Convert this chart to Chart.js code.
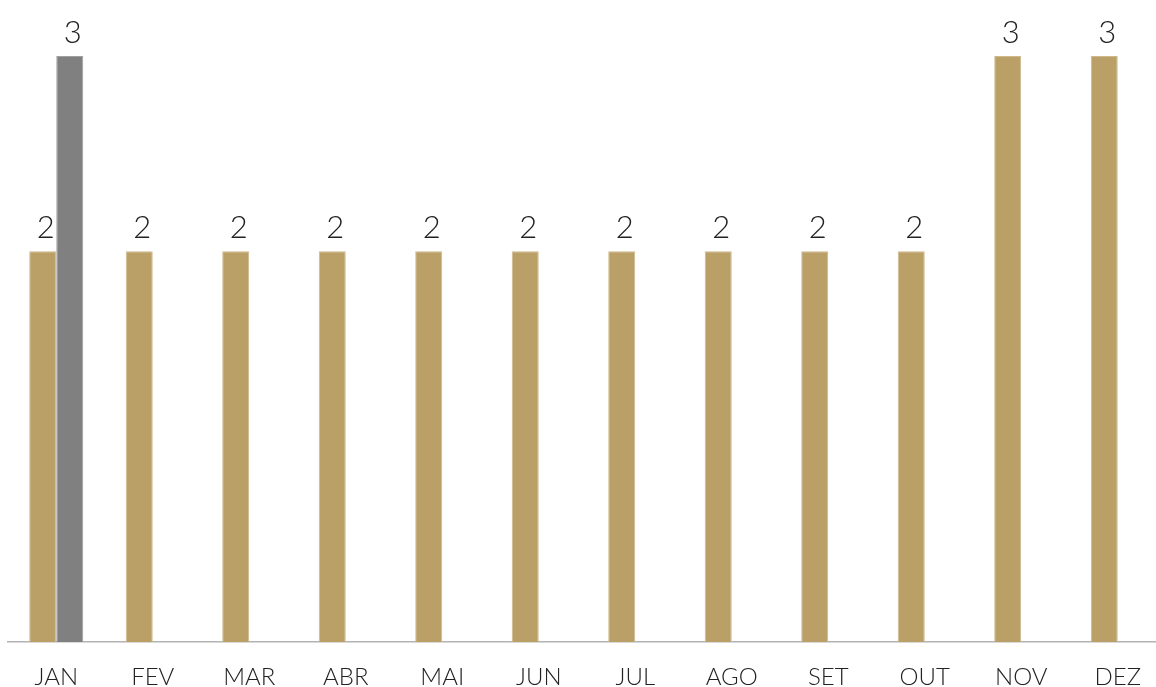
<!DOCTYPE html>
<html>
<head>
<meta charset="utf-8">
<script src="https://cdn.jsdelivr.net/npm/chart.js@4/dist/chart.umd.min.js"></script>
<style>
  html, body { margin: 0; padding: 0; background: #fff; overflow: hidden; }
  #wrap { width: 1166px; height: 687px; position: relative; }
</style>
</head>
<body>
<div id="wrap"><canvas id="c"></canvas></div>
<script>
const months = ['JAN','FEV','MAR','ABR','MAI','JUN','JUL','AGO','SET','OUT','NOV','DEZ'];
const goldValues = [2,2,2,2,2,2,2,2,2,2,3,3];
const grayValues = [3,null,null,null,null,null,null,null,null,null,null,null];
const yMax = 3;

const FONT = "'Lato', 'Open Sans', sans-serif";

const valueLabels = {
  id: 'valueLabels',
  afterDatasetsDraw(chart) {
    const ctx = chart.ctx;
    ctx.save();
    ctx.font = '300 31px ' + FONT;
    ctx.fillStyle = '#222';
    ctx.textAlign = 'center';
    ctx.textBaseline = 'alphabetic';
    chart.data.datasets.forEach((ds, i) => {
      const meta = chart.getDatasetMeta(i);
      meta.data.forEach((bar, j) => {
        const v = ds.data[j];
        if (v === null || v === undefined) return;
        ctx.fillText(String(v), bar.x + 3, bar.y - 13);
      });
    });
    ctx.restore();
  }
};

new Chart(document.getElementById('c'), {
  type: 'bar',
  data: {
    labels: months,
    datasets: [
      { data: goldValues, backgroundColor: '#BA9F66', borderColor: '#cdb98c', borderWidth: 1 },
      { data: grayValues, backgroundColor: '#808080', borderColor: '#a0a0a0', borderWidth: 1 }
    ]
  },
  options: {
    responsive: true,
    maintainAspectRatio: false,
    animation: false,
    layout: { padding: { left: 8, top: 56, right: 0, bottom: 0 } },
    plugins: { legend: { display: false }, tooltip: { enabled: false } },
    datasets: { bar: { categoryPercentage: 0.56, barPercentage: 1 } },
    scales: {
      x: {
        grid: { display: false, drawTicks: false },
        border: { display: true, color: '#b3b3b3', width: 1.5 },
        ticks: { color: '#222', font: { family: FONT, size: 24, weight: '300' }, padding: 21, maxRotation: 0, autoSkip: false },
        afterFit(s) { s.height = 45; }
      },
      y: {
        display: false,
        min: 0, max: yMax
      }
    }
  },
  plugins: [valueLabels]
});
</script>
</body>
</html>
